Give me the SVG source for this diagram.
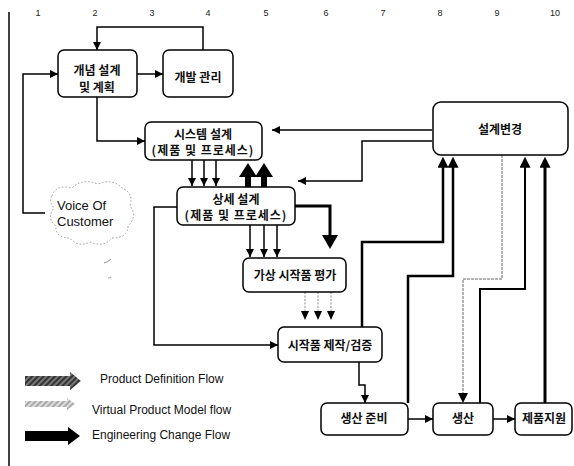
<svg xmlns="http://www.w3.org/2000/svg" width="574" height="466" viewBox="0 0 574 466">
<style>
.box{fill:#fff;stroke:#000;stroke-width:1.5}
.kt{font-family:"Noto Sans CJK KR","Liberation Sans",sans-serif;font-size:12px;fill:#111;text-anchor:middle;font-weight:bold}
.et{font-family:"Liberation Sans",Arial,sans-serif;fill:#111}
.num{font-family:"Liberation Sans",Arial,sans-serif;font-size:9px;fill:#222;text-anchor:middle}
.ln{fill:none;stroke:#000;stroke-width:1.5}
.th{fill:none;stroke:#000;stroke-width:2.5}
.vg{fill:none;stroke:#888;stroke-width:1;stroke-dasharray:2 1.5}
</style>
<defs>
<marker id="arr" viewBox="0 0 10 10" refX="10" refY="5" markerWidth="9" markerHeight="8" markerUnits="userSpaceOnUse" orient="auto"><path d="M0,0 L10,5 L0,10 z" fill="#000"/></marker>
<marker id="arrL" viewBox="0 0 10 10" refX="7" refY="5" markerWidth="12" markerHeight="11" markerUnits="userSpaceOnUse" orient="auto"><path d="M0,0 L10,5 L0,10 z" fill="#000"/></marker>
<pattern id="hatchD" width="4" height="4" patternUnits="userSpaceOnUse" patternTransform="rotate(45)"><rect width="4" height="4" fill="#777"/><rect width="2" height="4" fill="#333"/></pattern>
<pattern id="hatchL" width="4" height="4" patternUnits="userSpaceOnUse" patternTransform="rotate(45)"><rect width="4" height="4" fill="#ddd"/><rect width="2" height="4" fill="#aaa"/></pattern>
</defs>
<rect width="574" height="466" fill="#fff"/>

<g id="grid">
<line x1="9" y1="12" x2="9" y2="466" stroke="#000" stroke-width="1.5"/>
<text class="num" x="38" y="16">1</text>
<text class="num" x="95" y="16">2</text>
<text class="num" x="152" y="16">3</text>
<text class="num" x="208" y="16">4</text>
<text class="num" x="266" y="16">5</text>
<text class="num" x="326" y="16">6</text>
<text class="num" x="383" y="16">7</text>
<text class="num" x="440" y="16">8</text>
<text class="num" x="497" y="16">9</text>
<text class="num" x="555" y="16">10</text>
</g>

<g id="connectors">
<path class="ln" d="M203,50 V27 H97 V50" marker-end="url(#arr)"/>
<path class="ln" d="M137,74 H163" marker-end="url(#arr)"/>
<path class="ln" d="M45,213 H23 V74 H58" marker-end="url(#arr)"/>
<path class="ln" d="M97,97 V141 H145" marker-end="url(#arr)"/>
<path class="ln" d="M432,130 H272" marker-end="url(#arr)"/>
<path class="ln" d="M432,141 H362 V181 H298" marker-end="url(#arr)"/>
<path class="ln" d="M192,160 V186" marker-end="url(#arr)"/>
<path class="ln" d="M204,160 V186" marker-end="url(#arr)"/>
<path class="ln" d="M216,160 V186" marker-end="url(#arr)"/>
<g fill="#000">
<rect x="245" y="174" width="6" height="14"/>
<rect x="261" y="174" width="6" height="14"/>
<polygon points="239,177 248,163 257,177"/>
<polygon points="255,177 264,163 273,177"/>
</g>
<path d="M295,206 H330 V236" fill="none" stroke="#000" stroke-width="3"/>
<polygon points="322,235 330,249 338,235" fill="#000"/>
<path class="ln" d="M250,225 V257" marker-end="url(#arr)"/>
<path class="ln" d="M264,225 V257" marker-end="url(#arr)"/>
<path class="ln" d="M277,225 V257" marker-end="url(#arr)"/>
<path class="vg" d="M305,292 V312"/>
<path class="vg" d="M318,292 V312"/>
<path class="vg" d="M331,292 V312"/>
<path d="M301,311 L305,320 L309,311 z M314,311 L318,320 L322,311 z M327,311 L331,320 L335,311 z" fill="#000"/>
<path class="ln" d="M177,207 H154 V345 H278" marker-end="url(#arr)"/>
<path class="ln" d="M359,362 V385 H365 V403" marker-end="url(#arr)"/>
<path class="ln" d="M408,419 H433" marker-end="url(#arr)"/>
<path class="ln" d="M493,419 H515" marker-end="url(#arr)"/>
<path class="th" d="M362,327 V242 H443 V160" marker-end="url(#arrL)"/>
<path class="th" d="M408,403 V276 H453 V160" marker-end="url(#arrL)"/>
<path d="M502,155 V279 H463 V395" fill="none" stroke="#666" stroke-width="1" stroke-dasharray="3 1"/>
<path d="M458,393 L463,403 L468,393 z" fill="#000"/>
<path d="M480,403 V289 H525 V160" fill="none" stroke="#000" stroke-width="2" marker-end="url(#arrL)"/>
<path d="M545,403 V160" fill="none" stroke="#000" stroke-width="3" marker-end="url(#arrL)"/>
</g>

<g id="n_concept"><rect class="box" x="58" y="50" width="79" height="47" rx="6"/><text class="kt" x="97" y="75">개념 설계</text><text class="kt" x="97" y="92">및 계획</text></g>
<g id="n_devmgmt"><rect class="box" x="163" y="50" width="70" height="47" rx="6"/><text class="kt" x="198" y="82">개발 관리</text></g>
<g id="n_system"><rect class="box" x="145" y="122" width="117" height="38" rx="6"/><text class="kt" x="203" y="139">시스템 설계</text><text class="kt" x="203" y="155" letter-spacing="1">(제품 및 프로세스)</text></g>
<g id="n_detail"><rect class="box" x="177" y="187" width="118" height="38" rx="6"/><text class="kt" x="236" y="204">상세 설계</text><text class="kt" x="236" y="220" letter-spacing="1">(제품 및 프로세스)</text></g>
<g id="n_virtual"><rect class="box" x="243" y="258" width="103" height="34" rx="6"/><text class="kt" x="295" y="280">가상 시작품 평가</text></g>
<g id="n_proto"><rect class="box" x="278" y="327" width="104" height="35" rx="6"/><text class="kt" x="330" y="350">시작품 제작/검증</text></g>
<g id="n_prep"><rect class="box" x="321" y="403" width="87" height="32" rx="6"/><text class="kt" x="364" y="423">생산 준비</text></g>
<g id="n_prod"><rect class="box" x="433" y="403" width="60" height="32" rx="6"/><text class="kt" x="463" y="423">생산</text></g>
<g id="n_support"><rect class="box" x="515" y="403" width="57" height="32" rx="6"/><text class="kt" x="544" y="423">제품지원</text></g>
<g id="n_change"><rect class="box" x="433" y="102" width="135" height="53" rx="8"/><text class="kt" x="500" y="134">설계변경</text></g>

<g id="n_voc">
<path d="M52,196 q4,-12 20,-8 q10,-10 26,-4 q15,-6 24,4 q12,5 8,18 q8,10 -2,20 q0,12 -16,12 q-8,10 -22,4 q-12,6 -20,-4 q-15,0 -14,-12 q-10,-8 -2,-18 q-6,-8 -2,-12 z" fill="none" stroke="#999" stroke-width="1" stroke-dasharray="1.5 2"/>
<path d="M104,263 q4,-1 7,-4" fill="none" stroke="#999" stroke-width="1"/>
<path d="M108,278 q2,0 3,-1" fill="none" stroke="#999" stroke-width="1"/>
<text class="et" x="57" y="210" font-size="13">Voice Of</text>
<text class="et" x="57" y="226" font-size="13">Customer</text>
</g>

<g id="legend">
<rect x="25" y="376" width="47" height="10" fill="url(#hatchD)"/>
<polygon points="70,372 81,381 70,390" fill="url(#hatchD)"/>
<text class="et" x="100" y="383" font-size="12">Product Definition Flow</text>
<rect x="25" y="401" width="44" height="6" fill="url(#hatchL)"/>
<polygon points="67,398 75,404 67,410" fill="url(#hatchL)"/>
<text class="et" x="92" y="414" font-size="12">Virtual Product Model flow</text>
<rect x="25" y="431" width="45" height="10" fill="#000"/>
<polygon points="68,427 80,436 68,445" fill="#000"/>
<text class="et" x="92" y="439" font-size="12">Engineering Change Flow</text>
</g>
</svg>
